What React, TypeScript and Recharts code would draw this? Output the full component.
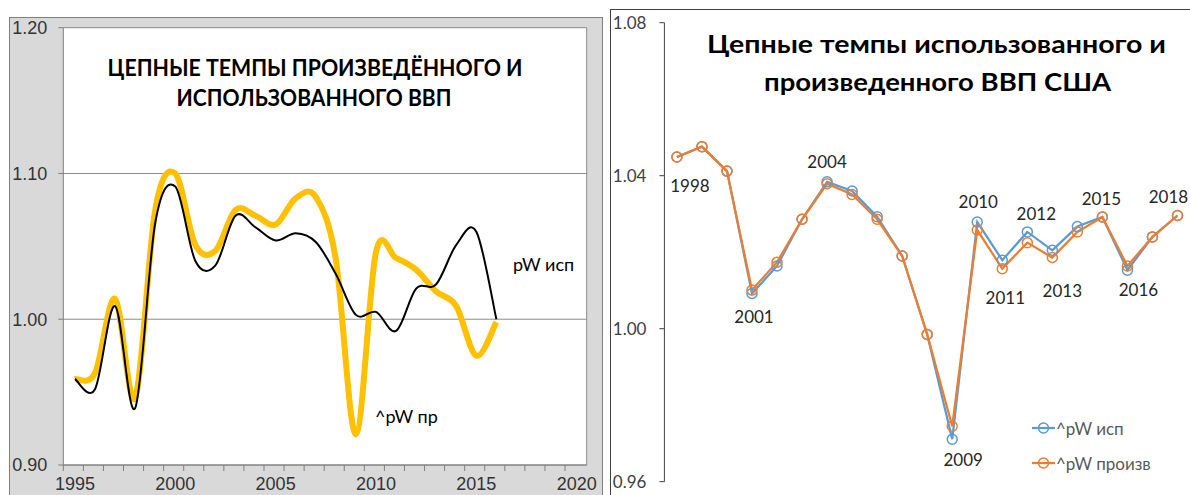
import React from "react"
import {
  CartesianGrid,
  LabelList,
  Legend,
  Line,
  LineChart,
  ReferenceLine,
  XAxis,
  YAxis,
} from "recharts"

// ---- left chart: chain rates of produced / used GDP (smoothed lines)
const LEFT_YEARS = [
  1995, 1996, 1997, 1998, 1999, 2000, 2001, 2002, 2003, 2004, 2005,
  2006, 2007, 2008, 2009, 2010, 2011, 2012, 2013, 2014, 2015, 2016,
]
const PW_PR = [
  0.959, 0.963, 1.014, 0.946, 1.075, 1.1, 1.051, 1.047, 1.075, 1.071, 1.065,
  1.083, 1.084, 1.041, 0.921, 1.046, 1.042, 1.034, 1.019, 1.009, 0.975, 0.998,
]
const PW_ISP = [
  0.959, 0.952, 1.009, 0.939, 1.066, 1.091, 1.04, 1.037, 1.071, 1.063, 1.054,
  1.059, 1.053, 1.031, 1.003, 1.005, 0.992, 1.021, 1.024, 1.051, 1.06, 1.0,
]
const LEFT_Y_TICKS = [0.9, 1.0, 1.1, 1.2]
const LEFT_X_TICKS = [
  1995, 1996, 1997, 1998, 1999, 2000, 2001, 2002, 2003, 2004, 2005, 2006, 2007,
  2008, 2009, 2010, 2011, 2012, 2013, 2014, 2015, 2016, 2017, 2018, 2019, 2020,
]

// ---- right chart: USA
const US_YEARS = [
  1998, 1999, 2000, 2001, 2002, 2003, 2004, 2005, 2006, 2007, 2008,
  2009, 2010, 2011, 2012, 2013, 2014, 2015, 2016, 2017, 2018,
]
const US_ISP = [
  1.0449, 1.0476, 1.0412, 1.0092, 1.0164, 1.0286, 1.0384, 1.036, 1.0293, 1.019, 0.9985,
  0.9711, 1.0279, 1.0179, 1.0253, 1.0205, 1.0267, 1.0292, 1.0153, 1.024, 1.0296,
]
const US_PROIZV = [
  1.0449, 1.0476, 1.0412, 1.0101, 1.0174, 1.0286, 1.0379, 1.0351, 1.0286, 1.019, 0.9985,
  0.9745, 1.0258, 1.0157, 1.0225, 1.0186, 1.0253, 1.0292, 1.0164, 1.024, 1.0296,
]
const US_LABEL_YEARS = [1998, 2001, 2004, 2009, 2010, 2011, 2012, 2013, 2015, 2016, 2018]
const RIGHT_Y_TICKS = [0.96, 1.0, 1.04, 1.08]

// label placement (offset of label centre from the point), layout only
const LABEL_OFFSETS: { [year: number]: [number, number] } = {
  1998: [13, 29],
  2001: [2, 23],
  2004: [0, -20],
  2009: [11, 20],
  2010: [1, -20],
  2011: [3, 37],
  2012: [9, -18],
  2013: [10, 40],
  2015: [-1, -19],
  2016: [11, 19],
  2018: [-9, -19],
}

const YELLOW = "#FFC000"
const BLUE = "#5B9BD5"
const ORANGE = "#ED7D31"
const CALIBRI = "Lato, 'Open Sans', sans-serif"
const ARIAL = "'Liberation Sans', Arial, sans-serif"

// left plot geometry
const LEFT_X_MIN = 1994.42
const LEFT_X_MAX = 2020.5
const LEFT_PLOT_LEFT = 63.3
const LEFT_PLOT_RIGHT = 586.7
const LEFT_PLOT_BOTTOM = 465
const LEFT_PX_PER_YEAR = (LEFT_PLOT_RIGHT - LEFT_PLOT_LEFT) / (LEFT_X_MAX - LEFT_X_MIN)

// excel-like smoothing (catmull-rom through the points)
const excelSmooth = (context: any) => {
  let pts: number[][] = []
  return {
    areaStart() {},
    areaEnd() {},
    lineStart() {
      pts = []
    },
    point(x: number, y: number) {
      pts.push([+x, +y])
    },
    lineEnd() {
      const n = pts.length
      if (!n) return
      context.moveTo(pts[0][0], pts[0][1])
      for (let i = 0; i < n - 1; i++) {
        const p0 = pts[i - 1] || pts[i]
        const p1 = pts[i]
        const p2 = pts[i + 1]
        const p3 = pts[i + 2] || p2
        context.bezierCurveTo(
          p1[0] + (p2[0] - p0[0]) / 6,
          p1[1] + (p2[1] - p0[1]) / 6,
          p2[0] - (p3[0] - p1[0]) / 6,
          p2[1] - (p3[1] - p1[1]) / 6,
          p2[0],
          p2[1]
        )
      }
    },
  }
}

const leftData = LEFT_YEARS.map((year, i) => ({ year, pr: PW_PR[i], isp: PW_ISP[i] }))
const usData = US_YEARS.map((year, i) => ({ year, isp: US_ISP[i], proizv: US_PROIZV[i] }))

function LeftYearTick(props: any) {
  const { x, payload } = props
  const year = payload.value
  const markX = x - (1995 - LEFT_X_MIN) * LEFT_PX_PER_YEAR
  return (
    <g>
      <line x1={markX} x2={markX} y1={LEFT_PLOT_BOTTOM} y2={LEFT_PLOT_BOTTOM + 6} stroke="#7f7f7f" />
      {year % 5 === 0 && (
        <text x={x} y={LEFT_PLOT_BOTTOM + 25} textAnchor="middle" fontSize={18} fontFamily={ARIAL} fill="#333">
          {year}
        </text>
      )}
    </g>
  )
}

function YearLabel(props: any) {
  const vb = props.viewBox || {}
  const x = props.x ?? vb.x
  const y = props.y ?? vb.y
  const year = US_YEARS[props.index]
  if (!US_LABEL_YEARS.includes(year)) return null
  const off = LABEL_OFFSETS[year] || [0, -20]
  return (
    <text
      x={x + off[0]}
      y={y + off[1]}
      textAnchor="middle"
      dominantBaseline="central"
      fontSize={17}
      fontFamily={CALIBRI}
      fill="#262626"
    >
      {year}
    </text>
  )
}

function UsLegend(props: any) {
  const items = props.payload || []
  return (
    <svg width={200} height={62}>
      {items.map((it: any, i: number) => {
        const cy = 13 + i * 35
        return (
          <g key={i}>
            <line x1={2} x2={25} y1={cy} y2={cy} stroke={it.color} strokeWidth={2.25} />
            <circle cx={13.5} cy={cy} r={5} fill="none" stroke={it.color} strokeWidth={1.5} />
            <text x={26} y={cy} dominantBaseline="central" fontSize={17} fontFamily={CALIBRI} fill="#595959">
              {it.value}
            </text>
          </g>
        )
      })}
    </svg>
  )
}

export default function App() {
  return (
    <div
      style={{
        position: "absolute",
        left: 0,
        top: 0,
        width: 1190,
        height: 495,
        overflow: "hidden",
        background: "#fff",
      }}
    >
      {/* frames */}
      <div
        style={{
          position: "absolute",
          left: 9,
          top: 17,
          width: 594,
          height: 520,
          background: "#d9d9d9",
          border: "1px solid #7f7f7f",
          boxSizing: "border-box",
        }}
      />
      <div
        style={{
          position: "absolute",
          left: 610,
          top: 9,
          width: 700,
          height: 560,
          background: "#fff",
          border: "1px solid #404040",
          boxSizing: "border-box",
        }}
      />

      {/* left chart */}
      <div style={{ position: "absolute", left: 0, top: 0 }}>
        <LineChart
          width={600}
          height={495}
          data={leftData}
          margin={{ top: 27.7, right: 600 - LEFT_PLOT_RIGHT, bottom: 0, left: 0 }}
        >
          <CartesianGrid vertical={false} stroke="#8c8c8c" fill="#fff" fillOpacity={1} />
          <XAxis
            type="number"
            dataKey="year"
            domain={[LEFT_X_MIN, LEFT_X_MAX]}
            allowDataOverflow
            ticks={LEFT_X_TICKS}
            interval={0}
            tickLine={false}
            tick={LeftYearTick}
            axisLine={{ stroke: "#7f7f7f" }}
            height={30}
          />
          <YAxis
            type="number"
            domain={[0.9, 1.2]}
            allowDataOverflow
            ticks={LEFT_Y_TICKS}
            interval={0}
            width={LEFT_PLOT_LEFT}
            tickFormatter={(v: number) => v.toFixed(2)}
            tick={{ fontSize: 18, fontFamily: ARIAL, fill: "#333" }}
            tickSize={5}
            tickMargin={11}
            tickLine={{ stroke: "#7f7f7f" }}
            axisLine={{ stroke: "#7f7f7f" }}
          />
          <ReferenceLine x={LEFT_X_MAX} stroke="#8c8c8c" />
          <Line
            dataKey="pr"
            type={excelSmooth as any}
            stroke={YELLOW}
            strokeWidth={6}
            dot={false}
            activeDot={false}
            isAnimationActive={false}
          />
          <Line
            dataKey="isp"
            type={excelSmooth as any}
            stroke="#000"
            strokeWidth={2}
            dot={false}
            activeDot={false}
            isAnimationActive={false}
          />
        </LineChart>
      </div>

      {/* right chart */}
      <div style={{ position: "absolute", left: 600, top: 0 }}>
        <LineChart
          width={590}
          height={495}
          data={usData}
          margin={{ top: 22.7, right: 0, bottom: 13.3, left: 0 }}
        >
          <XAxis type="number" dataKey="year" domain={[1997.5, 2018.5]} hide />
          <YAxis
            type="number"
            domain={[0.96, 1.08]}
            allowDataOverflow
            ticks={RIGHT_Y_TICKS}
            interval={0}
            width={64.4}
            tickFormatter={(v: number) => v.toFixed(2)}
            tick={{ fontSize: 17, fontFamily: CALIBRI, fill: "#404040" }}
            tickSize={5}
            tickMargin={13}
            tickLine={{ stroke: "#404040" }}
            axisLine={{ stroke: "#404040" }}
          />
          <Legend
            layout="vertical"
            align="center"
            verticalAlign="middle"
            content={UsLegend}
            wrapperStyle={{ left: 430, top: 415, width: 200, height: 62 }}
          />
          <Line
            name="^pW исп"
            dataKey="isp"
            type="linear"
            stroke={BLUE}
            strokeWidth={2.25}
            dot={{ r: 5, fill: "none", stroke: BLUE, strokeWidth: 1.5 }}
            activeDot={false}
            isAnimationActive={false}
          >
            <LabelList dataKey="year" content={YearLabel} />
          </Line>
          <Line
            name="^pW произв"
            dataKey="proizv"
            type="linear"
            stroke={ORANGE}
            strokeWidth={2.25}
            dot={{ r: 5, fill: "none", stroke: ORANGE, strokeWidth: 1.5 }}
            activeDot={false}
            isAnimationActive={false}
          />
        </LineChart>
      </div>

      {/* titles and annotations */}
      <svg
        width={1190}
        height={495}
        style={{ position: "absolute", left: 0, top: 0, pointerEvents: "none" }}
      >
        <text x={315} y={76} textAnchor="middle" fontSize={23} fontWeight={700} fontFamily={CALIBRI}
          textLength={415} lengthAdjust="spacingAndGlyphs" fill="#000">
          ЦЕПНЫЕ ТЕМПЫ ПРОИЗВЕДЁННОГО И
        </text>
        <text x={314} y={106} textAnchor="middle" fontSize={23} fontWeight={700} fontFamily={CALIBRI}
          textLength={275} lengthAdjust="spacingAndGlyphs" fill="#000">
          ИСПОЛЬЗОВАННОГО ВВП
        </text>
        <text x={513} y={271} fontSize={18} fontFamily={CALIBRI} fill="#000">
          pW исп
        </text>
        <text x={375} y={423} fontSize={18} fontFamily={CALIBRI} fill="#000">
          ^pW пр
        </text>
        <text x={936.5} y={53} textAnchor="middle" fontSize={25} fontWeight={700} fontFamily={CALIBRI}
          textLength={459} lengthAdjust="spacingAndGlyphs" fill="#000">
          Цепные темпы использованного и
        </text>
        <text x={937.5} y={91} textAnchor="middle" fontSize={25} fontWeight={700} fontFamily={CALIBRI}
          textLength={347} lengthAdjust="spacingAndGlyphs" fill="#000">
          произведенного ВВП США
        </text>
      </svg>
    </div>
  )
}
